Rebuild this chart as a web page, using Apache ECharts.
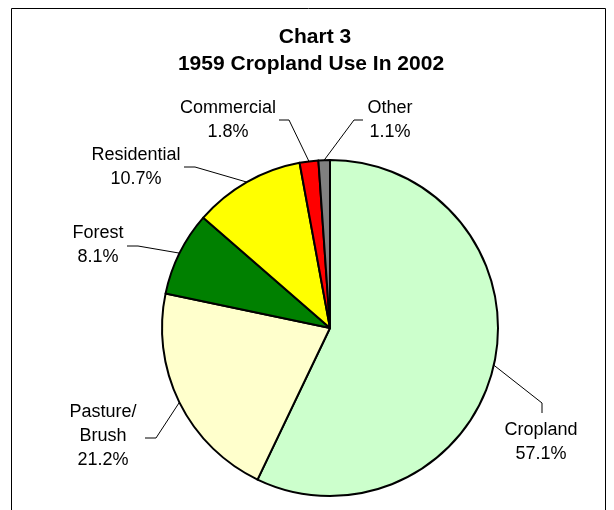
<!DOCTYPE html>
<html>
<head>
<meta charset="utf-8">
<script src="https://cdn.jsdelivr.net/npm/echarts@6/dist/echarts.min.js"></script>
<style>
html,body{margin:0;padding:0;background:#fff;}
#chart{width:614px;height:510px;}
</style>
</head>
<body>
<div id="chart"></div>
<script>
// Data
const categories = ['Cropland', 'Pasture/Brush', 'Forest', 'Residential', 'Commercial', 'Other'];
const labelNames = ['Cropland', 'Pasture/\nBrush', 'Forest', 'Residential', 'Commercial', 'Other'];
const values = [57.1, 21.2, 8.1, 10.7, 1.8, 1.1];
const colors = ['#CCFFCC', '#FFFFCC', '#008000', '#FFFF00', '#FF0000', '#808080'];
const titleLines = ['Chart 3', '1959 Cropland Use In 2002'];

// Label placement (text center and leader elbow points)
const labelPlace = {
  'Cropland':      {x: 541, y: 442, elbow: [[542, 403], [542, 413]]},
  'Pasture/Brush': {x: 103, y: 436, elbow: [[156, 438], [145, 438]]},
  'Forest':        {x: 98,  y: 245, elbow: [[138, 246], [127, 246]]},
  'Residential':   {x: 136, y: 167, elbow: [[195, 167], [184, 167]]},
  'Commercial':    {x: 228, y: 120, elbow: [[289, 120], [279, 120]]},
  'Other':         {x: 390, y: 120, elbow: [[354, 120], [363, 120]]}
};

const chart = echarts.init(document.getElementById('chart'), null, {renderer: 'canvas'});
const seriesData = categories.map((c, i) => ({
  name: c, value: values[i], itemStyle: {color: colors[i]},
  label: {formatter: labelNames[i] + '\n' + values[i].toFixed(1) + '%'}
}));

const titleFont = {fontFamily: 'Liberation Sans, Arial, sans-serif', fontWeight: 'bold', fontSize: 21, fill: '#000', align: 'center', verticalAlign: 'middle'};

chart.setOption({
  backgroundColor: '#ffffff',
  animation: false,
  graphic: [{
    type: 'rect',
    shape: {x: 11.5, y: 8.5, width: 594, height: 530},
    style: {fill: 'none', stroke: '#000', lineWidth: 1},
    silent: true
  }, {
    type: 'text', x: 315, y: 37, silent: true,
    style: Object.assign({text: titleLines[0]}, titleFont)
  }, {
    type: 'text', x: 311, y: 64, silent: true,
    style: Object.assign({text: titleLines[1]}, titleFont)
  }],
  series: [{
    type: 'pie',
    center: [330, 328],
    radius: 168,
    startAngle: 90,
    clockwise: true,
    data: seriesData,
    itemStyle: {borderColor: '#000', borderWidth: 2},
    label: {
      show: true,
      position: 'outside',
      fontFamily: 'Liberation Sans, Arial, sans-serif',
      fontSize: 18,
      lineHeight: 24,
      color: '#000',
      align: 'center'
    },
    labelLine: {show: true, length: 20, length2: 10, lineStyle: {color: '#000', width: 1}},
    labelLayout: function (params) {
      const name = categories[params.dataIndex];
      const p = labelPlace[name];
      const start = params.labelLinePoints ? params.labelLinePoints[0] : null;
      const out = {x: p.x, y: p.y, align: 'center', verticalAlign: 'middle'};
      if (start) out.labelLinePoints = [start, p.elbow[0], p.elbow[1]];
      return out;
    },
    emphasis: {disabled: true}
  }]
});
</script>
</body>
</html>
